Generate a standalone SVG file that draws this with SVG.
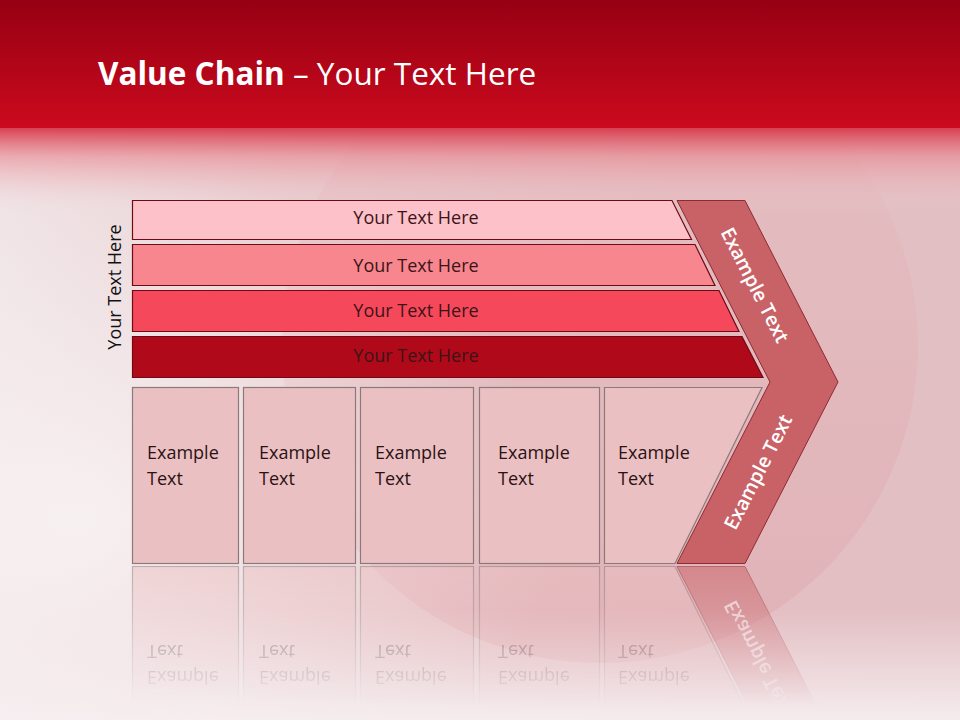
<svg xmlns="http://www.w3.org/2000/svg" width="960" height="720" viewBox="0 0 960 720">
<defs>
<linearGradient id="topBand" x1="0" y1="0" x2="0" y2="1">
<stop offset="0" stop-color="#960012"/>
<stop offset="1" stop-color="#cc0a1e"/>
</linearGradient>
<linearGradient id="lower" x1="0" y1="0" x2="1" y2="0">
<stop offset="0" stop-color="#efe2e4"/>
<stop offset="0.3" stop-color="#e8cdd0"/>
<stop offset="0.7" stop-color="#e4bfc3"/>
<stop offset="1" stop-color="#e2bfc3"/>
</linearGradient>
<linearGradient id="fadeTop" x1="0" y1="0" x2="0" y2="1">
<stop offset="0" stop-color="#d63446" stop-opacity="0.95"/>
<stop offset="0.35" stop-color="#e8868f" stop-opacity="0.6"/>
<stop offset="1" stop-color="#efd6d9" stop-opacity="0"/>
</linearGradient>
<linearGradient id="fog" x1="0" y1="0" x2="0" y2="1">
<stop offset="0" stop-color="#f6eef0" stop-opacity="0"/>
<stop offset="1" stop-color="#f6eef0" stop-opacity="0.95"/>
</linearGradient>
<radialGradient id="leftLight" cx="0.08" cy="0.72" r="0.5">
<stop offset="0" stop-color="#f8f2f3" stop-opacity="0.9"/>
<stop offset="1" stop-color="#f8f2f3" stop-opacity="0"/>
</radialGradient>
<linearGradient id="circFade" x1="0" y1="0" x2="0" y2="1">
<stop offset="0" stop-color="#e2b4b8" stop-opacity="0"/>
<stop offset="0.45" stop-color="#e2b4b8" stop-opacity="0.5"/>
<stop offset="1" stop-color="#e0b0b5" stop-opacity="0.85"/>
</linearGradient>
<linearGradient id="fadeMaskGrad" gradientUnits="userSpaceOnUse" x1="0" y1="565" x2="0" y2="705">
<stop offset="0" stop-color="#fff" stop-opacity="0.55"/>
<stop offset="1" stop-color="#fff" stop-opacity="0"/>
</linearGradient>
<mask id="fade" maskUnits="userSpaceOnUse" x="0" y="560" width="960" height="160">
<rect x="0" y="560" width="960" height="160" fill="url(#fadeMaskGrad)"/>
</mask>
<style>
.bar{stroke:#6e0a14;stroke-width:1.2}
.bt{font-family:"Open Sans","DejaVu Sans",sans-serif;font-size:18px;fill:#3c1418;text-anchor:middle}
.box{fill:#ebc0c2;stroke:#8c7a7b;stroke-width:1.2}
.xt{font-family:"Open Sans","DejaVu Sans",sans-serif;font-size:18px;fill:#2a1214}
.chev{fill:#c96267;stroke:#8e2a31;stroke-width:1}
.ct{font-family:"Open Sans","DejaVu Sans",sans-serif;font-size:19.5px;font-weight:600;fill:#ffffff;text-anchor:middle}
</style>
</defs>

<!-- background -->
<rect x="0" y="0" width="960" height="720" fill="url(#lower)"/>
<circle cx="600" cy="345" r="318" fill="url(#circFade)"/>
<rect x="0" y="0" width="960" height="720" fill="url(#leftLight)"/>
<rect x="0" y="610" width="960" height="110" fill="url(#fog)"/>
<rect x="0" y="127" width="960" height="85" fill="url(#fadeTop)"/>
<rect x="0" y="0" width="960" height="128" fill="url(#topBand)"/>

<text x="98" y="85" font-family="'Open Sans','DejaVu Sans',sans-serif" font-size="31.5" fill="#ffffff"><tspan font-weight="700">Value Chain</tspan> – Your Text Here</text>

<g id="side-label">
<text transform="translate(121,287) rotate(-90)" text-anchor="middle" font-family="'Open Sans','DejaVu Sans',sans-serif" font-size="18" fill="#111">Your Text Here</text>
</g>

<g id="bar1"><path class="bar" d="M132.5,200.5 H672 L691.5,239.5 H132.5 Z" fill="#fdc1c9"/><text class="bt" x="416" y="224">Your Text Here</text></g>
<g id="bar2"><path class="bar" d="M132.5,244.5 H695 L715,285.5 H132.5 Z" fill="#f7868f"/><text class="bt" x="416" y="272">Your Text Here</text></g>
<g id="bar3"><path class="bar" d="M132.5,290.5 H719 L739,331.5 H132.5 Z" fill="#f5495b"/><text class="bt" x="416" y="317">Your Text Here</text></g>
<g id="bar4"><path class="bar" d="M132.5,336.5 H742 L763,377.5 H132.5 Z" fill="#b00a1a"/><text class="bt" x="416" y="362">Your Text Here</text></g>

<g id="chevron">
<path class="chev" d="M677,200.5 L745,200.5 L838,382 L745,563.5 L677,563.5 L770,382 Z"/>
<text class="ct" transform="translate(755,285) rotate(63)" dy="7">Example Text</text>
<text class="ct" transform="translate(758,472) rotate(-63)" dy="7">Example Text</text>
</g>

<g id="boxes">
<g id="box1"><rect class="box" x="132.5" y="387.5" width="106" height="176"/><text class="xt" x="147" y="459">Example</text><text class="xt" x="147" y="485">Text</text></g>
<g id="box2"><rect class="box" x="243.5" y="387.5" width="112" height="176"/><text class="xt" x="259" y="459">Example</text><text class="xt" x="259" y="485">Text</text></g>
<g id="box3"><rect class="box" x="360.5" y="387.5" width="113" height="176"/><text class="xt" x="375" y="459">Example</text><text class="xt" x="375" y="485">Text</text></g>
<g id="box4"><rect class="box" x="479.5" y="387.5" width="120" height="176"/><text class="xt" x="498" y="459">Example</text><text class="xt" x="498" y="485">Text</text></g>
<g id="box5"><path class="box" d="M604.5,387.5 H762 L675,563.5 H604.5 Z"/><text class="xt" x="618" y="459">Example</text><text class="xt" x="618" y="485">Text</text></g>
</g>

<!-- reflection -->
<g id="reflection" mask="url(#fade)">
<g transform="matrix(1 0 0 -1 0 1130)">
<rect class="box" x="132.5" y="387.5" width="106" height="176"/><text class="xt" x="147" y="459">Example</text><text class="xt" x="147" y="485">Text</text>
<rect class="box" x="243.5" y="387.5" width="112" height="176"/><text class="xt" x="259" y="459">Example</text><text class="xt" x="259" y="485">Text</text>
<rect class="box" x="360.5" y="387.5" width="113" height="176"/><text class="xt" x="375" y="459">Example</text><text class="xt" x="375" y="485">Text</text>
<rect class="box" x="479.5" y="387.5" width="120" height="176"/><text class="xt" x="498" y="459">Example</text><text class="xt" x="498" y="485">Text</text>
<path class="box" d="M604.5,387.5 H762 L675,563.5 H604.5 Z"/><text class="xt" x="618" y="459">Example</text><text class="xt" x="618" y="485">Text</text>
<path class="chev" d="M745,563.5 L677,563.5 L770,382 L838,382 Z"/>
<text class="ct" transform="translate(758,472) rotate(-63)" dy="7">Example Text</text>
</g>
</g>
</svg>
